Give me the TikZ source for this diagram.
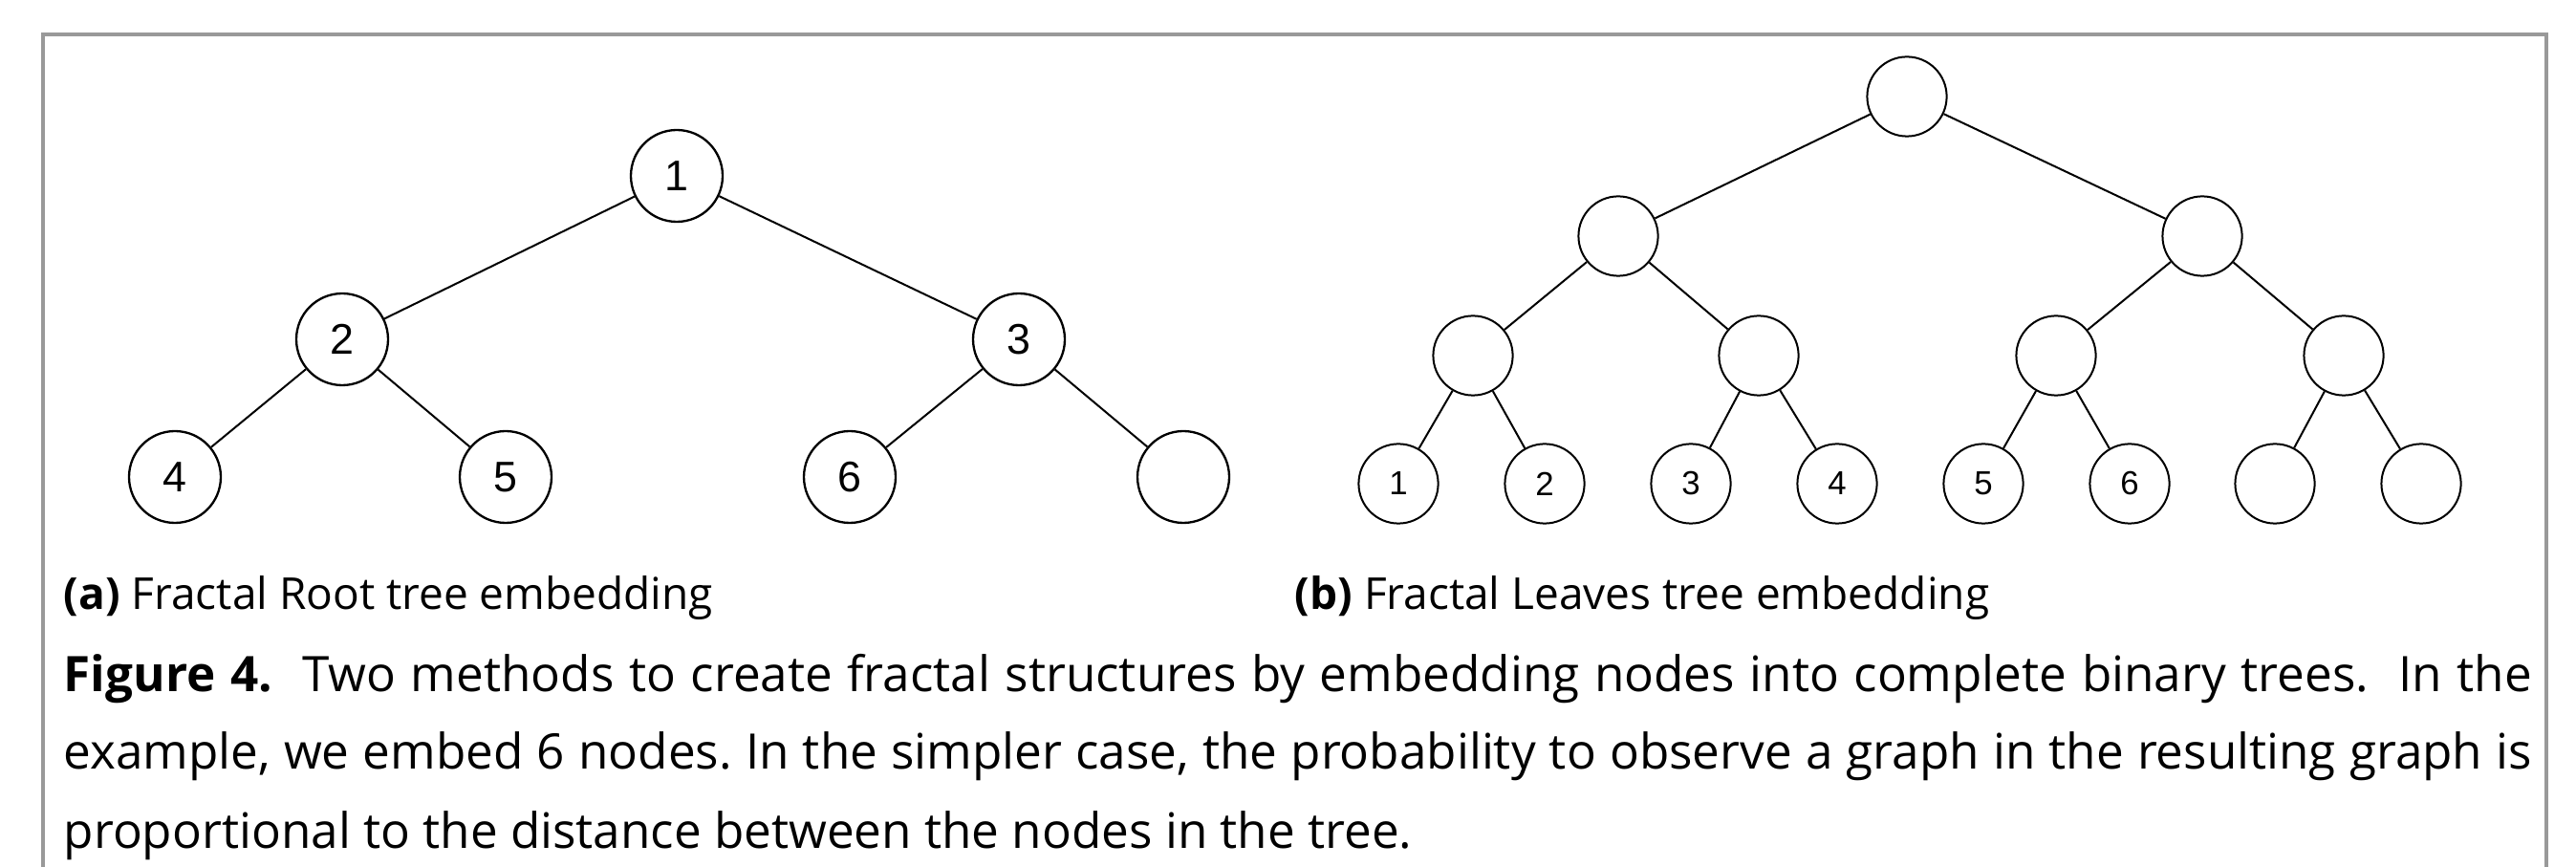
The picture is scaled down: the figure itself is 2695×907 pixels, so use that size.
\documentclass[tikz,border=0pt]{standalone}
\usepackage{fontspec}
\setmainfont{Open Sans}
\newfontfamily\nodefont{Liberation Sans}
\usetikzlibrary{positioning}
\definecolor{framegray}{rgb}{0.6, 0.6, 0.6}
\tikzstyle{rootnode}=[circle, draw=black, line width=0.58pt, minimum size=24pt, inner sep=0pt, font=\nodefont\fontsize{11.2}{12}\selectfont]
\tikzstyle{leafnode}=[circle, draw=black, line width=0.5pt, minimum size=20.8pt, inner sep=0pt, font=\nodefont\fontsize{8.7}{10}\selectfont]
\tikzstyle{edge}=[line width=0.5pt]
\tikzstyle{subcap}=[anchor=base west, inner sep=0pt, font=\fontsize{11.5}{13}\selectfont]

\begin{document}
\frenchspacing
\begin{tikzpicture}[x=0.25pt, y=-0.25pt]
		\useasboundingbox (0,0) rectangle (2695,907);
		\draw [framegray, line width=1.2pt] (45,907) -- (45,36) -- (2664,36) -- (2664,907);
		
		% (a) fractal root tree
		\node (a1) [rootnode] at (708,184) {1};
		\node (a2) [rootnode] at (358,355) {2};
		\node (a3) [rootnode] at (1066,355) {3};
		\node (a4) [rootnode] at (183,499) {4};
		\node (a5) [rootnode] at (529,499) {5};
		\node (a6) [rootnode] at (889,499) {6};
		\node (a7) [rootnode] at (1238,499) {};
		
		\draw [edge] (a1) -- (a2);
		\draw [edge] (a1) -- (a3);
		\draw [edge] (a2) -- (a4);
		\draw [edge] (a2) -- (a5);
		\draw [edge] (a3) -- (a6);
		\draw [edge] (a3) -- (a7);
		
		% (b) fractal leaves tree
		\node (b1) [leafnode] at (1995,101) {};
		\node (b2) [leafnode] at (1693,247) {};
		\node (b3) [leafnode] at (2304,247) {};
		\node (b4) [leafnode] at (1541,372) {};
		\node (b5) [leafnode] at (1840,372) {};
		\node (b6) [leafnode] at (2151,372) {};
		\node (b7) [leafnode] at (2452,372) {};
		\node (l1) [leafnode] at (1463,506) {1};
		\node (l2) [leafnode] at (1616,506) {2};
		\node (l3) [leafnode] at (1769,506) {3};
		\node (l4) [leafnode] at (1922,506) {4};
		\node (l5) [leafnode] at (2075,506) {5};
		\node (l6) [leafnode] at (2228,506) {6};
		\node (l7) [leafnode] at (2380,506) {};
		\node (l8) [leafnode] at (2533,506) {};
		
		\draw [edge] (b1) -- (b2);
		\draw [edge] (b1) -- (b3);
		\draw [edge] (b2) -- (b4);
		\draw [edge] (b2) -- (b5);
		\draw [edge] (b3) -- (b6);
		\draw [edge] (b3) -- (b7);
		\draw [edge] (b4) -- (l1);
		\draw [edge] (b4) -- (l2);
		\draw [edge] (b5) -- (l3);
		\draw [edge] (b5) -- (l4);
		\draw [edge] (b6) -- (l5);
		\draw [edge] (b6) -- (l6);
		\draw [edge] (b7) -- (l7);
		\draw [edge] (b7) -- (l8);
		
		% captions
		\node (capa) [subcap] at (66,638) {\textbf{(a)} Fractal Root tree embedding};
		\node (capb) [subcap] at (1354,638) {\textbf{(b)} Fractal Leaves tree embedding};
		\node (caption) [anchor=base west, inner sep=0pt, text width=645.5pt, align=justify, font=\fontsize{12.8}{20.5}\selectfont] at (66,723) {\textbf{Figure 4.}\ \ Two methods to create fractal structures by embedding nodes into complete binary trees.\ \ In the\linebreak example, we embed 6 nodes. In the simpler case, the probability to observe a graph in the resulting graph is\linebreak proportional to the distance between the nodes in the tree.};
	\end{tikzpicture}
\end{document}
